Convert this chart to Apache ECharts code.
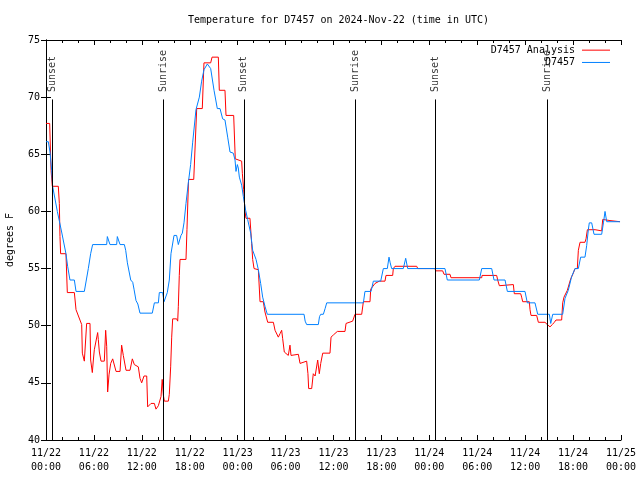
<!DOCTYPE html>
<html><head><meta charset="utf-8">
<script src="https://cdn.jsdelivr.net/npm/echarts@6/dist/echarts.min.js"></script>
<style>html,body{margin:0;padding:0;background:#fff}#c{width:640px;height:480px}</style>
</head><body><div id="c"></div>
<script>
// hours since 2024-11-22 00:00 UTC
const analysisHours = [
0,0.46,0.63,0.79,1.54,1.67,1.75,1.83,2.50,2.67,
3.55,3.76,4.47,4.55,4.80,5.09,5.51,5.59,5.80,5.93,
6.05,6.26,6.47,6.55,6.68,6.89,7.30,7.47,7.60,7.72,
7.89,8.10,8.35,8.55,8.77,9.27,9.47,9.68,10.02,10.52,
10.81,11.06,11.56,11.77,11.98,12.27,12.61,12.73,13.15,13.57,
13.77,14.07,14.27,14.40,14.55,14.70,14.82,15.32,15.44,15.61,
15.74,15.86,16.36,16.49,16.57,16.69,16.78,17.53,17.65,17.85,
18.50,18.87,19.57,19.78,20.62,20.79,21.58,21.70,22.41,22.54,
23.50,23.70,24.50,24.59,24.75,24.92,25.04,25.54,25.75,25.88,
26.05,26.59,26.80,27.21,27.42,27.63,27.76,28.47,28.68,29.09,
29.30,29.51,29.63,29.84,30.34,30.55,30.68,31.60,31.81,32.64,
32.80,32.89,33.27,33.47,33.70,33.90,34.02,34.22,34.40,34.65,
35.56,35.69,36.00,36.48,37.44,37.57,38.40,38.69,39.53,39.74,
40.57,40.66,41.20,41.74,42.45,42.57,43.41,43.49,43.70,46.42,
46.55,48.71,48.80,49.67,49.84,50.59,50.71,54.56,54.60,56.43,
56.56,56.77,58.52,58.64,59.44,59.56,59.69,60.52,60.61,60.73,
61.44,61.65,62.48,62.77,63.11,63.40,63.65,63.86,64.57,64.70,
64.86,65.11,65.28,65.50,65.70,66.03,66.24,66.53,66.66,66.87,
67.49,67.62,67.79,68.75,68.80,69.58,69.71,70.62,70.75,71.87
];
const analysisTemps = [
67.7,67.7,63.6,62.2,62.2,60.7,57.8,56.3,56.3,52.9,
52.9,51.4,50.1,47.6,46.9,50.2,50.2,47.0,45.9,47.0,
47.9,47.9,49.4,48.8,47.7,46.9,46.9,49.6,48.2,44.2,
45.7,46.7,47.1,47.1,46.0,46.0,48.3,47.4,46.1,46.1,
47.1,46.6,46.4,45.4,45.0,45.6,45.6,42.9,43.2,43.2,
42.7,43.0,43.0,43.8,45.3,43.9,43.4,43.4,44.0,46.4,
49.0,50.6,50.6,50.4,51.7,54.4,55.8,55.8,58.4,62.8,
62.8,69.0,69.0,73.0,73.0,73.5,73.5,70.6,70.6,68.4,
68.4,64.6,64.4,63.3,61.9,60.0,59.4,59.4,57.2,55.8,
55.0,54.9,52.1,52.1,51.2,51.2,50.3,50.3,49.6,49.0,
49.3,49.6,48.9,47.7,47.4,48.3,47.4,47.5,46.7,46.9,
45.8,44.5,44.5,45.8,45.6,45.5,47.0,45.8,46.7,47.6,
47.6,49.0,49.2,49.5,49.5,50.2,50.4,51.0,51.0,52.1,
52.1,53.2,53.7,53.9,53.9,54.4,54.4,55.0,55.2,55.2,
55.0,55.0,54.8,54.8,54.5,54.5,54.2,54.2,54.4,54.4,
54.0,53.5,53.6,52.8,52.8,52.5,52.1,52.1,51.4,50.9,
50.9,50.3,50.3,50.1,49.9,50.1,50.3,50.5,50.5,52.0,
52.5,52.5,53.1,53.2,54.1,54.6,55.0,55.0,56.6,57.3,
57.3,57.6,58.4,58.4,58.3,58.3,59.3,59.2,59.1,59.1
];
const obsHours = [
0,0.29,0.50,0.71,0.83,1.42,1.96,2.50,2.71,3.00,
3.55,3.76,4.80,5.30,5.59,5.84,7.60,7.68,7.89,8.01,
8.85,8.93,9.18,9.27,9.81,9.98,10.19,10.61,10.86,11.02,
11.27,11.50,11.77,13.31,13.57,14.07,14.19,14.61,14.78,15.03,
15.19,15.44,15.65,16.03,16.36,16.57,16.90,17.07,17.28,17.53,
17.82,18.11,18.36,18.78,19.20,19.49,19.78,20.20,20.45,20.62,
21.04,21.45,21.79,22.12,22.41,22.75,23.04,23.45,23.67,23.79,
23.96,24.08,24.21,24.50,24.71,25.00,25.25,25.63,25.88,26.30,
26.59,26.88,27.13,27.42,27.71,32.31,32.45,32.64,34.10,34.25,
34.40,34.73,34.95,35.15,39.74,39.94,40.70,40.99,41.91,42.24,
42.74,42.95,43.10,43.28,44.74,45.04,45.29,49.96,50.25,54.26,
54.56,55.81,56.10,57.48,57.77,59.98,60.27,61.23,61.57,63.03,
63.20,63.45,64.70,64.99,65.40,65.82,66.24,66.66,66.95,67.49,
67.70,67.91,68.03,68.33,68.62,69.58,69.80,70.00,70.21,71.88
];
const obsTemps = [
66.1,66.1,65.2,63.6,62.2,60.0,58.2,56.3,55.2,54.0,
54.0,53.0,53.0,55.0,56.3,57.1,57.1,57.8,57.8,57.1,
57.1,57.8,57.8,57.1,57.1,56.6,55.5,54.0,53.8,53.2,
52.2,51.9,51.1,51.1,52.0,52.0,52.9,52.9,52.1,52.0,
52.9,54.0,56.3,57.9,57.9,57.1,57.9,58.1,59.0,60.7,
62.5,64.1,66.0,68.9,70.0,71.4,72.4,72.9,73.0,72.5,
70.6,69.0,69.0,68.1,68.0,66.5,65.2,65.1,64.5,63.5,
64.1,63.8,63.0,62.3,61.3,60.1,59.3,58.1,56.6,55.8,
54.9,53.7,52.5,51.7,51.0,51.0,50.4,50.1,50.1,50.8,
51.0,51.0,51.5,52.0,52.0,53.0,53.0,53.9,53.9,55.0,
55.0,56.0,55.5,55.0,55.0,55.9,55.0,55.0,54.0,54.0,
55.0,55.0,54.0,54.0,53.0,53.0,52.0,52.0,51.0,51.0,
50.2,51.0,51.0,52.4,53.1,54.3,55.0,55.0,56.0,56.0,
57.0,58.4,59.0,59.0,58.0,58.0,59.0,60.0,59.1,59.1
];
const sunHours = [0.78, 14.72, 24.78, 38.75, 48.78, 62.75];
const sunLabels = ['Sunset','Sunrise','Sunset','Sunrise','Sunset','Sunrise'];
const xTickLabels = ['11/22\n00:00','11/22\n06:00','11/22\n12:00','11/22\n18:00',
  '11/23\n00:00','11/23\n06:00','11/23\n12:00','11/23\n18:00',
  '11/24\n00:00','11/24\n06:00','11/24\n12:00','11/24\n18:00','11/25\n00:00'];
const seriesNames = ['D7457 Analysis', 'D7457'];
const seriesColors = ['#ff0000', '#0080ff'];
const titleText = 'Temperature for D7457 on 2024-Nov-22 (time in UTC)';
const yName = 'degrees F';

const FONT = 'DejaVu Sans Mono';
const zip = (a, b) => a.map((v, i) => [v, b[i]]);
const chart = echarts.init(document.getElementById('c'), null, {renderer: 'canvas'});
const tickCommon = {
  axisLine: {show: true, lineStyle: {color: '#000', width: 1}},
  axisTick: {show: true, inside: true, length: 5, lineStyle: {color: '#000', width: 1}},
  splitLine: {show: false}
};
chart.setOption({
  animation: false,
  textStyle: {fontFamily: FONT},
  title: {
    text: titleText, left: 333.5, top: 10, textAlign: 'center',
    textStyle: {fontFamily: FONT, fontSize: 10, fontWeight: 'normal', color: '#000'}
  },
  legend: {
    data: seriesNames.map((n, i) => ({name: n, icon: 'rect', itemStyle: {color: seriesColors[i]}})),
    orient: 'vertical', right: 25, top: 39, align: 'right',
    itemWidth: 28, itemHeight: 1, itemGap: 0,
    textStyle: {fontFamily: FONT, fontSize: 10, color: '#000', lineHeight: 12.3, padding: [0, 2, 0, 0]}
  },
  grid: {left: 46, right: 19, top: 40, bottom: 40, outerBoundsMode: 'none', containLabel: false},
  xAxis: [
    Object.assign({
      type: 'value', min: 0, max: 72, interval: 6, position: 'bottom',
      minorTick: {show: true, splitNumber: 3, length: 3, lineStyle: {color: '#000'}},
      axisLabel: {formatter: v => xTickLabels[Math.round(v / 6)], fontFamily: FONT, fontSize: 10,
        color: '#000', lineHeight: 14, margin: 6}
    }, tickCommon),
    Object.assign({
      type: 'value', min: 0, max: 72, interval: 6, position: 'top',
      minorTick: {show: true, splitNumber: 3, length: 3, lineStyle: {color: '#000'}},
      axisLabel: {show: false}
    }, tickCommon)
  ],
  yAxis: [
    Object.assign({
      type: 'value', min: 40, max: 75, interval: 5, position: 'left',
      name: yName, nameLocation: 'middle', nameGap: 31, nameRotate: 90,
      nameTextStyle: {fontFamily: FONT, fontSize: 10, color: '#000'},
      axisLabel: {fontFamily: FONT, fontSize: 10, color: '#000', margin: 6}
    }, tickCommon),
    Object.assign({
      type: 'value', min: 40, max: 75, interval: 5, position: 'right',
      axisLabel: {show: false}
    }, tickCommon)
  ],
  series: [
    {
      name: 'sun', type: 'scatter', xAxisIndex: 0, yAxisIndex: 0,
      symbolSize: 1, itemStyle: {color: 'rgba(0,0,0,0)'}, silent: true,
      data: sunHours.map((h, i) => ({value: [h, 70.45], name: sunLabels[i]})),
      label: {show: true, position: 'inside', rotate: 90, align: 'left', verticalAlign: 'middle',
        formatter: '{b}', fontFamily: FONT, fontSize: 10, color: '#000'},
      markLine: {
        silent: true, symbol: ['none', 'none'], label: {show: false},
        lineStyle: {color: '#000', width: 1, type: 'solid'},
        data: sunHours.map(h => [{coord: [h, 69.8]}, {coord: [h, 40]}])
      }
    },
    {
      name: seriesNames[0], type: 'line', data: zip(analysisHours, analysisTemps),
      symbol: 'none', showSymbol: false,
      lineStyle: {color: seriesColors[0], width: 1}, itemStyle: {color: seriesColors[0]}
    },
    {
      name: seriesNames[1], type: 'line', data: zip(obsHours, obsTemps),
      symbol: 'none', showSymbol: false,
      lineStyle: {color: seriesColors[1], width: 1}, itemStyle: {color: seriesColors[1]}
    }
  ]
});
</script>
</body></html>
